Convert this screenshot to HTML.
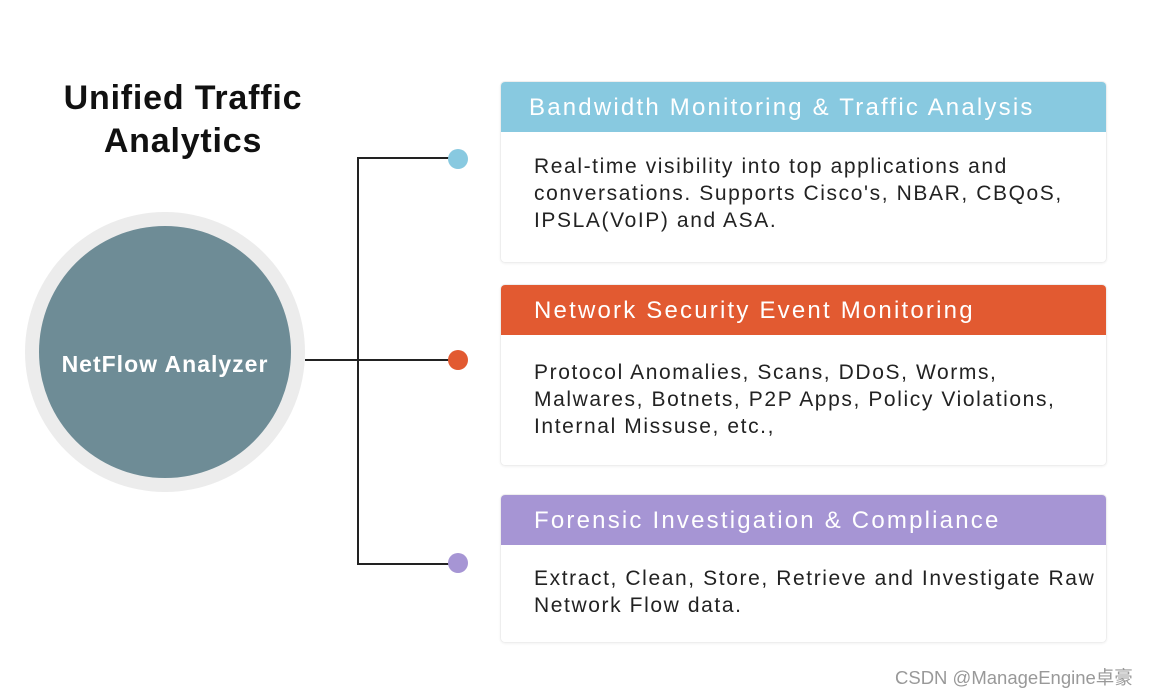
<!DOCTYPE html>
<html><head><style>
body{margin:0;width:1149px;height:695px;background:#fff;position:relative;overflow:hidden;font-family:"Liberation Sans","Noto Sans CJK SC",sans-serif;}
.t{position:absolute;left:20px;width:326px;text-align:center;top:77px;font-size:34px;line-height:43px;color:#111;font-weight:bold;letter-spacing:0.8px}
.oc{position:absolute;left:25px;top:212px;width:280px;height:280px;border-radius:50%;background:#ececec}
.ic{position:absolute;left:39px;top:226px;width:252px;height:252px;border-radius:50%;background:#6e8c96;color:#fff;font-weight:bold;font-size:23px;letter-spacing:1px;display:flex;align-items:center;justify-content:center;padding-top:24px;box-sizing:border-box}
.l{position:absolute;background:#222}
.d{position:absolute;width:20px;height:20px;border-radius:50%}
.b{position:absolute;left:500px;width:607px;border:1.5px solid #eee;border-radius:5px;box-sizing:border-box;box-shadow:0 1px 2px rgba(0,0,0,.05)}
.h{height:50px;color:#fff;font-size:24px;line-height:52px;padding-left:28px;border-radius:4px 4px 0 0;letter-spacing:2.2px;white-space:nowrap}
.c{padding:21px 0 0 33px;font-size:21px;line-height:27px;color:#222;letter-spacing:1.6px;white-space:nowrap}
.w{position:absolute;left:895px;top:664px;font-size:18.5px;color:#999}
</style></head><body>
<div class="t">Unified Traffic<br>Analytics</div>
<div class="oc"></div>
<div class="ic">NetFlow Analyzer</div>
<div class="l" style="left:357px;top:157px;width:2px;height:408px"></div>
<div class="l" style="left:357px;top:157px;width:101px;height:2px"></div>
<div class="l" style="left:305px;top:359px;width:153px;height:2px"></div>
<div class="l" style="left:357px;top:563px;width:101px;height:2px"></div>
<div class="d" style="left:448px;top:149px;background:#88c9e0"></div>
<div class="d" style="left:448px;top:350px;background:#e25a31"></div>
<div class="d" style="left:448px;top:553px;background:#a695d4"></div>
<div class="b" style="top:81px;height:182px"><div class="h" style="background:#88c9e0">Bandwidth Monitoring &amp; Traffic Analysis</div><div class="c">Real-time visibility into top applications and<br>conversations. Supports Cisco's, NBAR, CBQoS,<br>IPSLA(VoIP) and ASA.</div></div>
<div class="b" style="top:284px;height:182px"><div class="h" style="background:#e25a31;padding-left:33px">Network Security Event Monitoring</div><div class="c" style="padding-top:24px">Protocol Anomalies, Scans, DDoS, Worms,<br>Malwares, Botnets, P2P Apps, Policy Violations,<br>Internal Missuse, etc.,</div></div>
<div class="b" style="top:494px;height:149px"><div class="h" style="background:#a695d4;padding-left:33px">Forensic Investigation &amp; Compliance</div><div class="c" style="padding-top:20px">Extract, Clean, Store, Retrieve and Investigate Raw<br>Network Flow data.</div></div>
<div class="w">CSDN @ManageEngine卓豪</div>
</body></html>
